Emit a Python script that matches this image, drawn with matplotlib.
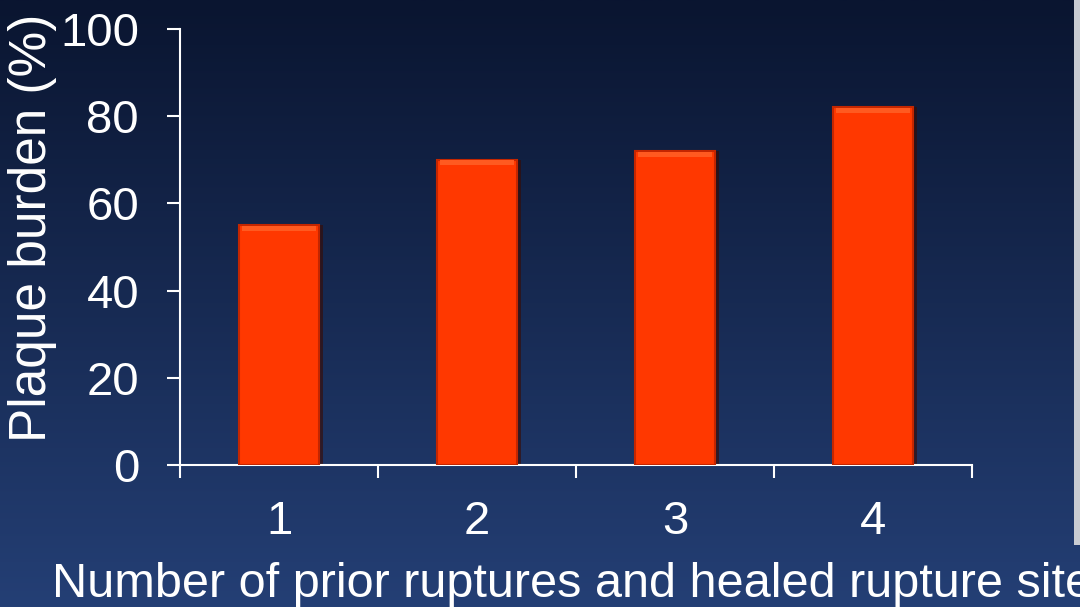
import numpy as np
import matplotlib
matplotlib.use("Agg")
import matplotlib.pyplot as plt
from matplotlib.patches import Rectangle

categories = ["1", "2", "3", "4"]
plaque_burden = [55, 70, 72, 82]
y_ticks = [0, 20, 40, 60, 80, 100]

plt.rcParams["font.family"] = ["Liberation Sans", "DejaVu Sans"]

fig = plt.figure(figsize=(10.8, 6.07), dpi=100)

# gradient slide background
bg = fig.add_axes([0, 0, 1, 1])
grad = np.linspace(0, 1, 256).reshape(-1, 1)
top = np.array([0x0a, 0x15, 0x30]) / 255
bottom = np.array([0x24, 0x3f, 0x75]) / 255
img = top + (bottom - top) * grad[:, :, None]
bg.imshow(img, aspect="auto", extent=[0, 1, 0, 1], origin="upper")
bg.set_xlim(0, 1)
bg.set_ylim(0, 1)
bg.axis("off")
# light strip on right edge
bg.add_patch(Rectangle((1074 / 1080, (607 - 545) / 607), 6 / 1080, 545 / 607,
                       facecolor="#c9ccd2", edgecolor="none"))

ax = fig.add_axes([180 / 1080, 1 - 465 / 607, 792 / 1080, 436 / 607])
ax.patch.set_alpha(0)
x = np.arange(len(categories))

# shadow then bars
ax.bar(x + 0.02, plaque_burden, width=0.4, color="#3a0a00", alpha=0.6, zorder=2)
bars = ax.bar(x, plaque_burden, width=0.4, color="#ff3800", edgecolor="#c42600",
              linewidth=1.5, zorder=3)
for xi, v in zip(x, plaque_burden):
    ax.bar(xi, 1.2, bottom=v - 1.3, width=0.37, color="#ff5a20", zorder=4)

ax.set_xlim(-0.5, len(categories) - 0.5)
ax.set_ylim(0, 100)
ax.set_yticks(y_ticks)
ax.set_yticklabels([str(t) for t in y_ticks])
ax.set_xticks(np.arange(len(categories) + 1) - 0.5)
ax.set_xticklabels([""] * (len(categories) + 1))
ax.set_xticks(x, minor=True)
ax.set_xticklabels(categories, minor=True)

for s in ["top", "right"]:
    ax.spines[s].set_visible(False)
for s in ["left", "bottom"]:
    ax.spines[s].set_color("white")
    ax.spines[s].set_linewidth(1.5)

ax.tick_params(axis="both", which="major", direction="out", length=9.5, width=1.5,
               colors="white", labelsize=34)
ax.tick_params(axis="y", pad=20)
ax.tick_params(axis="x", which="minor", length=0, labelsize=34, colors="white", pad=25)

fig.text(33 / 1080, 1 - 228 / 607, "Plaque burden (%)", rotation=90, color="white",
         fontsize=37, ha="center", va="center")
fig.text(52 / 1080, 1 - 597 / 607, "Number of prior ruptures and healed rupture site",
         color="white", fontsize=35, ha="left", va="baseline")

fig.savefig("out.png", dpi=100)
